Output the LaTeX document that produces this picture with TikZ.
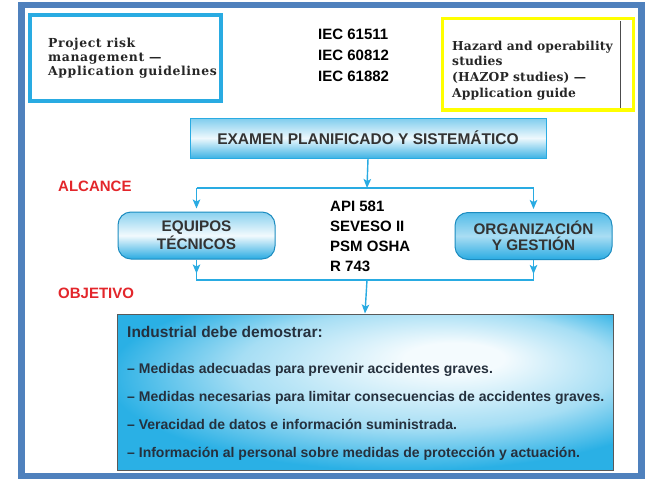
\documentclass[tikz,border=0pt]{standalone}
\usepackage{fontspec}
\newfontfamily\sansb{Liberation Sans Bold}
\newfontfamily\serifa{DejaVu Serif Bold}[LetterSpace=5]
\newfontfamily\serifb{DejaVu Serif Bold}[LetterSpace=1]
\usetikzlibrary{arrows.meta,calc,shadings}
\definecolor{frameblue}{HTML}{4F81BD}
\definecolor{cyanl}{HTML}{29ABE2}
\definecolor{yell}{HTML}{FFFF00}
\definecolor{redl}{HTML}{E3262B}
\definecolor{txtg}{HTML}{333333}
\definecolor{navy}{HTML}{25303D}
\definecolor{boxc}{HTML}{2AB0E5}
\definecolor{glowmid}{HTML}{A6DEF4}
\definecolor{glowin}{HTML}{F4FBFE}
\definecolor{btnedge}{HTML}{1C8CC0}
\pgfdeclareradialshading{glow}{\pgfpoint{10bp}{12bp}}{color(0bp)=(glowin); color(5bp)=(glowin); color(19bp)=(glowmid); color(30bp)=(boxc); color(50bp)=(boxc)}
\tikzset{
  conn/.style={draw=cyanl, line width=1.4pt},
  tip/.style={-{Stealth[length=9pt,width=7.5pt,inset=2pt]}},
  sanslbl/.style={font=\sansb\fontsize{15}{15}\selectfont, inner sep=0pt},
  itemtxt/.style={font=\sansb\fontsize{14}{14}\selectfont, text=navy, inner sep=0pt, anchor=base west},
  serifA/.style={font=\serifa\fontsize{12.4}{12.4}\selectfont, text=black!85, inner sep=0pt, anchor=base west},
  serifB/.style={font=\serifb\fontsize{12.3}{12.3}\selectfont, text=black!85, inner sep=0pt, anchor=base west},
  btn/.style={draw=btnedge, line width=1pt, rounded corners=13pt, minimum width=157pt, minimum height=47pt,
    align=center, text=txtg, font=\sansb\fontsize{15.3}{15.5}\selectfont},
}
\begin{document}
\begin{tikzpicture}[x=1pt,y=-1pt]
\path[use as bounding box, fill=white] (0,0) rectangle (647,482);
\draw[frameblue, line width=6.5pt] (21.5,5) rectangle (641.5,476);

% top left box
\node[draw=cyanl, line width=4pt, minimum width=191pt, minimum height=86.5pt, inner sep=0pt] (prj) at (125.5,57.75) {};
\node[serifA] (prj1) at (48,47) {Project risk};
\node[serifA] (prj2) at (48,61) {management —};
\node[serifA] (prj3) at (48,75) {Application guidelines};

% IEC
\node[sanslbl, anchor=base west] (iec1) at (318,39.5) {IEC 61511};
\node[sanslbl, anchor=base west] (iec2) at (318,60.5) {IEC 60812};
\node[sanslbl, anchor=base west] (iec3) at (318,81.5) {IEC 61882};

% top right box
\node[draw=yell, line width=3.5pt, minimum width=191pt, minimum height=91.5pt, inner sep=0pt] (haz) at (538,64.25) {};
\draw[black!70, line width=0.8pt] (620,21) -- (620,108);
\node[serifB] (haz1) at (452,50) {Hazard and operability};
\node[serifB] (haz2) at (452,65.7) {studies};
\node[serifB] (haz3) at (452,81.4) {(HAZOP studies) —};
\node[serifB] (haz4) at (452,97) {Application guide};

% main box
\node[draw=cyanl, line width=1pt, minimum width=356pt, minimum height=40pt, inner sep=0pt,
  top color=cyanl!60!white, bottom color=cyanl!90!white, middle color=cyanl!8!white,
  text=txtg, font=\sansb\fontsize{15.5}{15.5}\selectfont] (exam) at (368,138) {EXAMEN PLANIFICADO Y SISTEMÁTICO};

% labels
\node[sanslbl, anchor=base west, text=redl] (alc) at (58,191) {ALCANCE};
\node[sanslbl, anchor=base west, text=redl] (obj) at (58,298) {OBJETIVO};

% buttons
\node[btn, top color=cyanl!55!white, bottom color=cyanl, middle color=cyanl!6!white] (equipos) at (196.5,235.5) {EQUIPOS\\TÉCNICOS};
\node[btn, top color=cyanl!80!white, bottom color=cyanl, middle color=cyanl!40!white] (organ) at (533.5,236) {ORGANIZACIÓN\\Y GESTIÓN};

% API
\node[sanslbl, anchor=base west] (api1) at (330,211.5) {API 581};
\node[sanslbl, anchor=base west] (api2) at (330,231.5) {SEVESO II};
\node[sanslbl, anchor=base west] (api3) at (330,251.5) {PSM OSHA};
\node[sanslbl, anchor=base west] (api4) at (330,271.5) {R 743};

% bottom box
\node[draw=black!65, line width=1pt, shade, shading=glow, minimum width=496pt, minimum height=156pt, inner sep=0pt] (ind) at (365,392) {};
\node[itemtxt, font=\sansb\fontsize{15.5}{15.5}\selectfont] (ind0) at (127,337) {Industrial debe demostrar:};
\node[itemtxt] (ind1) at (127,373) {– Medidas adecuadas para prevenir accidentes graves.};
\node[itemtxt] (ind2) at (127,401) {– Medidas necesarias para limitar consecuencias de accidentes graves.};
\node[itemtxt] (ind3) at (127,429) {– Veracidad de datos e información suministrada.};
\node[itemtxt] (ind4) at (127,457) {– Información al personal sobre medidas de protección y actuación.};

% connectors
\coordinate (jt) at (367,188);
\coordinate (jb) at (367,280);
\draw[conn,tip] (exam.south) -- (jt);
\draw[conn] (equipos.north |- jt) -- (organ.north |- jt);
\draw[conn,tip,shorten >=3pt] (equipos.north |- jt) -- (equipos.north);
\draw[conn,tip,shorten >=3pt] (organ.north |- jt) -- (organ.north);
\draw[conn] (equipos.south) -- (equipos.south |- jb) -- (organ.south |- jb) -- (organ.south);
\draw[conn,tip] (equipos.south) -- ++(0,14);
\draw[conn,tip] (organ.south) -- ++(0,14);
\draw[conn,tip] (jb) -- (ind.north);
\end{tikzpicture}
\end{document}
